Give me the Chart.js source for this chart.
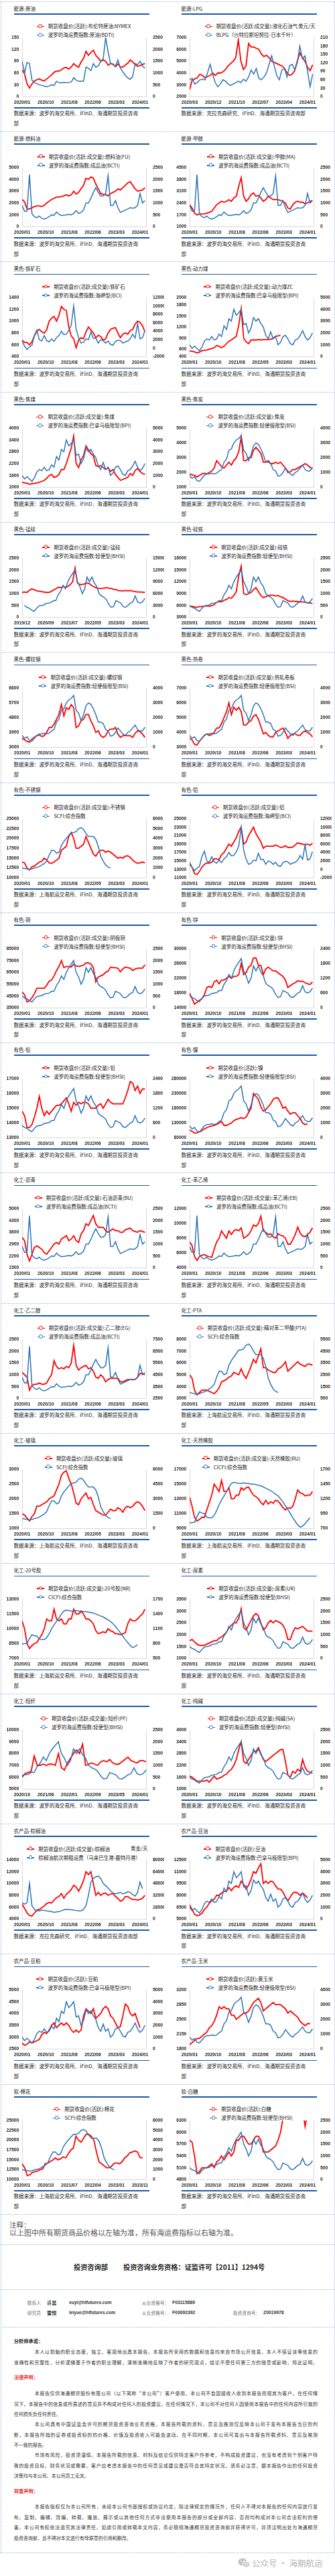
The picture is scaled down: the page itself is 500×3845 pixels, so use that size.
<!DOCTYPE html>
<html><head><meta charset="utf-8">
<script src="https://cdn.jsdelivr.net/npm/chart.js@4.4.1/dist/chart.umd.min.js"></script>
<style>
html,body{margin:0;padding:0;background:#fff;}
body{width:500px;height:3845px;position:relative;overflow:hidden;font-family:"Noto Sans CJK SC","Noto Sans",sans-serif;color:#1a1a1a;}
.abs{position:absolute;}
.hl{position:absolute;left:1px;width:498px;height:0;border-top:1px dotted #9fb5d5;}
.vl{position:absolute;top:1.7px;height:3808px;width:0;border-left:1px dotted #9fb5d5;}
.cell{position:absolute;width:250px;height:194px;}
.ttl{position:absolute;left:20.5px;top:5px;font-size:7.5px;line-height:11px;white-space:nowrap;}
.rule{position:absolute;left:20.5px;width:202px;height:1.7px;background:#1f5aa6;}
.lg{position:absolute;left:0;width:250px;top:30.8px;text-align:center;}
.lgi{display:inline-block;text-align:left;}
.lrow{height:13px;line-height:13px;font-size:7.5px;white-space:nowrap;}
.mk{display:inline-block;width:11px;height:7px;position:relative;vertical-align:middle;margin-right:6px;top:-1px;}
.mk::before{content:'';position:absolute;left:0;right:0;top:2.8px;height:1.6px;background:currentColor;}
.mk::after{content:'';position:absolute;left:2.6px;top:0.2px;width:3.6px;height:3.6px;border:1.4px solid currentColor;border-radius:50%;background:#fff;}
.mk.r{color:#ff0000;} .mk.b{color:#2e75b6;}
.unit{position:absolute;left:195px;top:32px;font-size:7.5px;line-height:10px;white-space:nowrap;}
.src{position:absolute;left:20.5px;top:160.8px;font-size:7.6px;line-height:14.7px;white-space:pre;}
canvas.cv{position:absolute;left:0;top:40px;}
.tx{position:absolute;white-space:nowrap;}
.jl{position:absolute;white-space:nowrap;font-size:7px;line-height:10px;text-align:justify;text-align-last:justify;color:#333;}
.pl{position:absolute;white-space:nowrap;font-size:7px;line-height:10px;color:#333;}
</style></head>
<body>
<script>
// ---------------- x label sets ----------------
const X_STD = ['2020/01','2020/10','2021/08','2022/06','2023/03','2024/01'];
const X_MAY = ['2020/01','2020/10','2021/08','2022/05','2023/03','2024/01'];
const X_LPG = ['2020/03','2020/12','2021/10','2022/07','2023/04','2024/01'];
const X_MNSI = ['2019/12','2020/09','2021/07','2022/05','2023/03','2024/01'];
const X_PF = ['2020/10','2021/06','2022/01','2022/09','2023/05','2024/01'];
const X_COT = ['2020/01','2020/10','2021/07','2022/04','2023/01','2023/11'];

// ---------------- shared freight indices (monthly, from start month) ----------------
const bdti = [1500,1000,1450,1400,700,600,550,500,480,450,420,450, 500,480,650,600,580,600,590,600,620,800,700,650, 650,650,1250,1200,1100,1400,1250,1300,1500,1600,2500,1900, 1400,1350,1300,1550,1200,1050,900,800,730,850,1400,1350, 1500,1300,1200];
const blpg = [60,65,45,50,60,62,60,85,115,80, 50,35,45,60,55,45,40,45,50,55,50,62, 55,70,95,80,100,65,60,70,85,115,145,110, 75,60,95,100,70,110,115,95,120,180,135,145, 90,35,80];
const bcti = [900,650,650,2200,550,420,380,450,350,320,360,420, 500,480,620,520,470,480,500,520,500,560,680,560, 600,700,1000,1000,1200,1450,1650,1450,1300,1300,1400,2150, 900,900,1100,800,600,650,700,750,800,780,800,900, 1400,1000,1100];
const bci = [1700,500,-300,300,700,3000,4300,2000,1700,3000,1800,1500, 2200,1600,2500,3000,4000,3200,3300,4200,5500,10000,4500,2500, 1200,1400,2200,2000,3800,2300,2400,1200,2000,1800,1200,1700, 900,700,1600,1900,1800,1200,1500,1700,2200,3300,2400,5800, 2200,2500,4200];
const bpi = [1000,700,900,700,500,800,1300,1500,1400,1700,1400,1500, 1900,1700,2600,2300,3200,3000,4000,3500,3700,4000,2700,2800, 2000,2400,3300,3000,3200,2800,2500,1800,1500,2100,1500,1700, 1000,1200,1700,1800,1500,1100,1000,1400,1500,1800,2200,1700, 1400,1600,2000];
const bsi = [800,600,700,450,400,600,800,900,900,950,900,950, 1100,1200,1700,1900,2500,2600,3000,3200,3300,3500,2500,2300, 1800,2200,2800,3000,2900,2600,2200,1700,1700,1600,1200,1100, 750,800,1000,1300,1100,900,800,1000,1100,1300,1500,1200, 1100,1100,1350];
const bhsi = [500,420,380,300,250,380,480,500,520,580,600,620, 700,700,950,1100,1350,1200,1500,1700,1850,2000,1500,1300, 1000,1200,1700,1500,1700,1450,1300,1000,900,850,750,550, 420,450,700,650,600,450,420,500,600,650,900,650, 600,650,800];
const scfi = [1000,950,900,850,900,1000,1050,1150,1300,1450,1700,2300, 2800,2800,2500,2600,3300,3700,4000,4300,4600,4600,4700,5000, 5100,4900,4500,4200,4200,4200,3900,3200,2200,1700,1300,1100, 1000];
const cicfi = [790,800,800,900,980,960,950,890,880,880,920,1000, 1100,1180,1250,1320,1400,1460,1480,1470,1460,1460,1470,1460, 1460,1450,1450,1440,1430,1420,1400,1380,1360,1340,1310,1280, 1250,1200,1150,1080,1020,950,880,820,760,720,740,780, 830,880];
const palmFreight = [22000,20000,22000,48000,18000,13000,11000,11000,12000,11500,11000,10500, 10000,9000,9500,10000,11000,12500,13000,12800,12500,12000,11500,11000, 11000,13000,18000,32000,50000,55000,57000,58000,55000,48000,45000,42000, 38000,35000,34000,35000,36000,34000,35000,37000,36000,33000,31000,36000, 50000,41000];

// ---------------- futures prices (monthly, from start month) ----------------
const brent = [68,58,33,22,32,40,43,45,42,40,45,50, 55,62,65,65,68,73,74,70,75,84,78,75, 88,97,115,105,112,118,105,98,90,93,90,80, 84,83,76,83,75,75,80,85,93,88,82,77, 79,82,84];
const lpg = [2600,3400,3500,3600,3900,3800,3600,3700,3800,4000, 3800,4000,4000,4100,4300,4600,4800,5000,5300,6800,5000,4300, 4600,6500,6200,6200,6100,6000,5600,5400,5500,5300,5000,4900, 4800,4700,4600,4400,4000,3800,3900,4200,5000,5700,5300,5000, 4500,4200,4700];
const fuelOil = [2300,2100,1500,1500,1600,1700,1750,1750,1700,1800,2000,2150, 2300,2400,2500,2500,2550,2600,2700,2600,2700,3000,2750,2900, 3200,3500,4100,4000,4200,4100,3600,3200,2800,2750,2700,2600, 2800,2900,3000,3200,3100,3300,3500,3700,3800,3500,3200,3000, 3050,3100,3300];
const methanol = [2300,2100,1800,1700,1750,1750,1750,1800,1850,1900,2100,2300, 2400,2500,2450,2500,2600,2500,2700,2800,3400,3900,2800,2500, 2650,2900,3000,2800,2850,2700,2500,2600,2800,2700,2600,2600, 2600,2550,2500,2400,2100,2050,2300,2450,2500,2450,2450,2350, 2400,2500,2550];
const ironOre = [680,640,640,600,650,750,830,860,820,800,850,1000, 1050,1080,1000,1100,1250,1200,1180,900,750,700,550,680, 720,700,820,900,850,800,720,760,740,680,700,800, 860,880,890,800,720,780,800,780,840,860,950,1000, 980,920,820];
const thermalCoal = [550,550,530,500,520,560,570,580,600,620,640,700, 680,640,680,750,820,850,900,950,1250,1700,900,800, 750,850,850,850,860,850,860,860,860,870,900,950, 960,980];
const cokingCoal = [1250,1230,1200,1150,1180,1200,1220,1250,1300,1350,1450,1600, 1650,1500,1550,1650,1900,1900,2200,2600,3000,3600,2200,2000, 2400,2600,3100,2900,2700,2600,2100,2050,2100,2000,1900,2000, 1800,1900,1650,1500,1350,1400,1450,1500,1700,1600,1850,1950, 1800,1700,1650];
const coke = [1900,1850,1800,1700,1800,1900,1950,1900,2000,2100,2300,2800, 2600,2400,2300,2500,2700,2500,2800,3000,3400,4400,2800,2800, 3000,3000,3500,3700,3500,3300,2700,2700,2800,2600,2600,2700, 2600,2700,2500,2300,2000,2050,2200,2200,2300,2400,2500,2600, 2500,2350,2250];
const mnSi = [6300, 6400,6300,6800,7200,7000,6700,6600,6500,6400,6300,6300,6500, 6900,7200,7600,7500,7800,7600,7800,8300,9000,12500,8700,8300, 8300,8500,8700,8500,8000,7700,7400,7300,7300,7400,7500,7400, 7300,7100,7000,6800,6700,6700,6800,6700,6800,6600,6500,6400, 6400,6350,6300];
const feSi = [5800,5800,5600,5500,5700,5700,5800,5900,5800,5900,6200,6800, 7000,6900,7300,7500,8000,7800,8500,9500,13500,16000,9000,8700, 9000,9300,10000,10500,9500,8500,8000,8200,8500,8600,8600,8400, 8500,8200,8000,7600,7200,7000,7100,7000,7000,6900,6900,6800, 6700,6600,6500];
const rebar = [3550,3450,3350,3300,3500,3600,3700,3750,3650,3700,3900,4200, 4200,4400,4700,5000,5600,4900,5400,5300,5600,5400,4200,4300, 4600,4700,5000,5000,4600,4300,3900,4000,3700,3600,3700,4000, 4100,4100,4200,3800,3600,3700,3700,3700,3700,3600,3850,4000, 3950,3800,3600];
const hotCoil = [3600,3500,3200,3150,3400,3600,3800,3900,3800,3850,4000,4300, 4300,4600,5000,5400,6000,5200,5700,5500,5700,5400,4500,4500, 4700,4800,5100,5200,4900,4400,3900,4000,3800,3700,3700,4000, 4100,4200,4300,4000,3600,3800,3900,3900,3800,3800,4000,4100, 4000,3900,3700];
const stainless = [14000,13800,12500,12000,12800,13000,13500,14000,14200,15000,14500,13800, 13700,14000,14500,15000,17000,17500,18000,20500,21500,20000,17500,17500, 18000,18500,20500,19000,17500,16000,15500,16500,17000,17000,16500,16800, 16500,16000,15500,15000,15200,15000,15500,15600,15200,14500,14000,13700, 13800,14000,13800];
const aluminium = [14200,13500,12000,11800,12500,13500,14200,14500,14500,14700,15500,15500, 15300,16500,17000,18000,19000,18500,19500,20500,22000,23000,19000,19500, 21000,22000,23000,21500,20500,19500,18000,18500,18500,18500,18500,18800, 18500,18200,18300,18600,18200,18200,18300,18800,19300,19100,19000,18800, 19000,18700,19200];
const copper = [48500,46000,40000,41000,43500,47000,51500,51500,51500,51500,54000,57500, 58500,62000,66500,70000,75000,69000,70000,70000,69500,72000,70500,70000, 70500,71000,73000,73000,72000,69000,57000,61000,62000,63000,65000,66000, 69500,69000,69000,68500,65500,68000,69500,69000,68500,66500,67800,68500, 68500,68500,71500];
const zinc = [18000,16500,15000,15500,16000,16500,17500,19500,19800,19500,21000,21500, 20500,21500,21500,22000,22500,22000,22500,22500,23000,26000,23000,23500, 25000,25500,27500,27500,25500,25500,23000,24500,25000,24500,24000,24000, 23500,23000,22500,21500,19500,20000,20500,20800,21300,21200,21200,20800, 20500,20300,21000];
const lead = [14800,14500,13700,13700,13900,14400,15000,15800,15000,14500,14800,14600, 14800,15000,15200,15200,15300,15500,15700,15300,14800,15400,15200,15400, 15300,15400,15400,15300,15000,15000,15000,15200,15300,15000,15300,15600, 15400,15300,15300,15300,15300,15300,15700,16200,16800,16700,16200,16500, 16000,16300,16300];
const nickel = [106000,102000,96000,97000,100000,104000,110000,114000,118000,120000,122000,125000, 130000,135000,122000,122000,126000,130000,138000,142000,145000,148000,145000,150000, 165000,180000,230000,220000,210000,185000,170000,175000,185000,195000,210000,215000, 215000,200000,180000,185000,170000,160000,165000,165000,155000,145000,130000,125000, 127000];
const bitumen = [3300,3100,2300,1900,2300,2700,2800,2700,2600,2400,2300,2500, 2700,2900,3000,2900,3200,3300,3400,3100,3200,3400,3100,3000, 3500,3700,4100,4000,4300,4600,4100,3900,3900,3900,3700,3600, 3700,3800,3700,3700,3600,3600,3750,3800,3850,3700,3650,3600, 3700,3650,3600];
const styrene = [7500,7000,5500,5000,5500,5700,5800,5600,5500,5400,6500,7500, 8000,9000,8500,8000,9000,8500,9000,9200,9000,9400,8000,8200, 8500,9000,9800,9600,10000,11000,9000,8800,8500,8600,8200,8000, 8600,8400,8300,8000,7200,7200,7800,8500,9500,8700,8300,8200, 8500,8800,9400];
const glycol = [4700,4500,4300,3200,3600,3700,3700,3800,3700,3700,3800,4200, 4500,5700,5200,5000,5100,5000,5200,5100,5500,7000,5300,4900, 5100,5200,5300,5000,5100,4800,4300,4200,4500,4300,3900,4100, 4200,4200,4200,4200,3900,3900,4000,4100,4100,4100,4100,4300, 4600,4600,4500];
const pta = [5000,4700,3700,3300,3500,3700,3700,3700,3600,3500,3400,3600, 3900,4400,4500,4600,4800,4900,5200,5100,5000,5500,5000,4700, 5200,5700,6300,6000,6600,7200,5600,5600,5400,5300,5200,5200, 5500,5600,5800,6100,5300,5500,5700,5900,6100,5900,5800,5700, 5900,5900,5800];
const glass = [1500,1450,1350,1250,1400,1500,1750,1750,1800,1850,1900,2000, 2050,2100,2300,2500,2800,2900,2950,2700,2500,2200,1850,1800, 2000,2100,2200,2000,2050,1800,1600,1550,1500,1450,1450,1550, 1650,1600,1600,1700,1650,1550,1700,1750,1700,1750,1850,1900, 1850,1750,1600];
const rubber = [13200,12000,10500,10000,10200,10500,10500,11500,12500,13500,15000,14500, 14000,15500,14000,14000,14500,13000,13000,13500,13500,14500,14200,14500, 14600,14000,13500,13300,13000,12500,12200,12800,12300,12600,12400,12800, 12700,12300,11800,11500,11800,11700,12000,13000,14200,13800,13700,13400, 13500,13500,14000];
const nr20 = [10800,10000,8500,8000,8300,8500,8600,9000,9400,10000,11000,10800, 10800,12000,11000,10800,11000,10500,10500,11000,11000,12000,11500,11500, 11800,11500,11000,11000,10800,10500,9800,9500,9600,9700,9600,10000, 9800,9700,9500,9500,9400,9500,9600,10500,11000,10800,10800,11000, 11300,11500,12000];
const urea = [1750,1800,1700,1600,1550,1550,1550,1600,1650,1700,1750,1750, 1850,1900,2000,2100,2300,2400,2500,2500,2700,3100,2300,2200, 2400,2600,2800,2900,2800,2500,2200,2300,2500,2600,2500,2600, 2550,2500,2400,2200,1800,1800,2100,2300,2250,2300,2350,2250, 2150,2150,2150];
const psf = [6000,6300,6400, 6500,7800,7000,7000,7100,7000,7100,7100,7000,8000,6800,6600, 7200,7600,8000,8300,8000,8800,7000,7100,7200,7100,7000,7300, 7400,7300,7500,7200,7100,7100,7300,7500,7700,7400,7300,7200, 7400,7400,7300];
const sodaAsh = [1650,1600,1500,1400,1400,1400,1400,1450,1350,1500,1650,1500, 1550,1600,1700,1750,1900,2000,2200,2500,3000,3400,2400,2300, 2500,2700,2900,2900,3100,2800,2500,2400,2500,2600,2700,2800, 2900,3000,3000,2400,1700,1600,1900,1800,2000,1900,2500,2100, 1900,1850,1800];
const palmOil = [6500,5800,5000,4600,4500,5000,5500,5600,5900,6200,6600,6800, 6700,7200,7600,7800,8300,7500,8200,8500,9000,9700,9400,8700, 9500,10500,12000,11500,12000,10000,8000,8500,8000,8300,8400,8000, 8200,8300,7800,7500,7000,7200,7800,7800,7500,7300,7300,7200, 7300,7500,8000];
const soyOil = [6800,6200,5600,5400,5500,5700,6200,6500,7000,7300,7500,8000, 8000,8300,8500,8500,9000,8600,9000,9200,9000,9800,9400,8800, 9300,10000,11000,10800,11500,12000,9500,9800,9500,9800,9700,9200, 8800,8800,8400,7800,7300,7800,8300,8400,8300,8000,8300,8000, 7700];
const soyMeal = [2750,2650,2700,2800,2750,2800,2850,2900,3100,3200,3150,3300, 3500,3600,3400,3500,3600,3500,3600,3500,3300,3200,3300,3200, 3300,3900,4200,4100,4000,4200,3800,3900,4000,4200,4300,4200, 3900,3800,3600,3400,3450,3900,4400,4300,4000,3900,4000,3700, 3400];
const corn = [1900,1950,2000,2050,2050,2100,2150,2200,2300,2350,2450,2600, 2800,2750,2800,2750,2750,2600,2600,2500,2550,2600,2650,2650, 2700,2800,2900,2950,3000,2900,2700,2750,2800,2850,2900,2850, 2850,2850,2800,2750,2650,2700,2650,2600,2550,2450,2400,2350, 2400,2400];
const cotton = [14000,13000,11000,11200,11800,12000,12200,12500,12700,14000,14200,14600, 15000,15500,15000,15300,15800,15500,16500,17500,18000,21000,20000,19500, 20500,21500,21500,21000,20000,17000,14500,14000,13500,13000,13000,13500, 14200,14200,14000,14500,15500,16000,16800,17000,17300,17000,15600,15500];
const sugar = [5800,5750,5400,4950,5000,5100,5100,5100,5150,5200,5100,5250, 5300,5400,5300,5400,5500,5400,5500,5800,5800,5900,5900,5800, 5700,5700,5800,5900,5900,5800,5500,5500,5500,5550,5600,5650, 5800,6000,6350,6600,7000,7000,7000,7000,7000,6800,6600,6150, 6500,6500];

// ---------------- axis ticks ----------------
const tk = {
  p150:[0,30,60,90,120,150], r2500:[0,500,1000,1500,2000,2500],
  lpgL:[2000,3000,4000,5000,6000,7000], lpgR:[0,30,60,90,120,150,180,210],
  l5000:[0,1000,2000,3000,4000,5000], maL:[1000,1700,2400,3100,3800,4500],
  ioL:[400,600,800,1000,1200,1400], bciR:[-2000,0,2000,4000,6000,8000,10000,12000],
  zcL:[400,600,900,1200,1500,1800,2000], r5000:[0,1000,2000,3000,4000,5000],
  jmL:[1000,1600,2200,2800,3400,4000], jL:[1000,2000,3000,4000,5000], r4000:[0,1000,2000,3000,4000],
  sfR:[0,3000,6000,9000,12000,15000], siL:[3000,6000,9000,12000,15000,18000],
  rbL:[3000,3900,4800,5700,6600], hcL:[3000,4000,5000,6000,7000],
  ssL:[10000,12500,15000,17500,20000,22500,25000], r6000:[0,1000,2000,3000,4000,5000,6000],
  alL:[11000,13000,15000,17000,19000,21000,23000,25000],
  cuL:[35000,45000,55000,65000,75000,85000], znL:[14000,18000,22000,26000,30000], r2400:[0,600,1200,1800,2400],
  pbL:[13000,14000,15000,16000,17000], niL:[80000,130000,180000,230000,280000],
  buL:[1500,2200,2900,3600,4300,5000], ebL:[4000,6000,8000,10000,12000],
  egR:[2500,3500,4500,5500,6500,7500], ptaL:[3000,4000,5000,6000,7000,8000], ptaR:[500,1500,2500,3500,4500,5500],
  fgL:[1000,1500,2000,2500,3000], fgR:[0,1500,3000,4500,6000],
  ruL:[9000,11000,13000,15000,17000], ruR:[700,950,1200,1450,1700],
  nrL:[7000,8500,10000,11500,13000], nrR:[500,800,1100,1400,1700],
  urL:[1000,1500,2000,2500,3000,3500], pfL:[5000,6000,7000,8000,9000,10000],
  saL:[1000,1600,2200,2800,3400,4000], pL:[4000,6000,8000,10000,12000,14000], pR:[0,16000,32000,48000,64000,80000],
  yL:[5000,6500,8000,9500,11000,12500], mL:[2500,3000,3500,4000,4500,5000], cL:[1800,2150,2500,2850,3200],
  srL:[4800,5100,5400,5700,6000,6300]
};

const SRC_B = '数据来源：波罗的海交易所、iFinD、海通期货投资咨询\n部';
const SRC_S = '数据来源：上海航运交易所、iFinD、海通期货投资咨询\n部';
const SRC_C = '数据来源：克拉克森研究、iFinD、海通期货投资咨询部';
const FUT = '期货收盘价(活跃:成交量):';
const FUTA = '期货收盘价(活跃):';
const BAL = '波罗的海运费指数:';

// chart table: title, legend red, legend blue, red data, red start, blue data, blue start, left ticks, right ticks, x labels, source, red on right axis
const table = [
 ['能源-原油','期货收盘价(活跃):布伦特原油:NYMEX',BAL+'原油(BDTI)',brent,'2020/01',bdti,'2020/01',tk.p150,tk.r2500,X_STD,SRC_B,0],
 ['能源-LPG',FUT+'液化石油气','BLPG（沙特拉斯坦努拉-日本千叶）',lpg,'2020/03',blpg,'2020/03',tk.lpgL,tk.lpgR,X_LPG,SRC_C,0,'美元/天'],
 ['能源-燃料油',FUT+'燃料油(FU)',BAL+'成品油(BCTI)',fuelOil,'2020/01',bcti,'2020/01',tk.l5000,tk.r2500,X_STD,SRC_B,0],
 ['能源-甲醇',FUT+'甲醇(MA)',BAL+'成品油(BCTI)',methanol,'2020/01',bcti,'2020/01',tk.maL,tk.r2500,X_STD,SRC_B,0],
 ['黑色-铁矿石',FUT+'铁矿石',BAL+'海岬型(BCI)',ironOre,'2020/01',bci,'2020/01',tk.ioL,tk.bciR,X_STD,SRC_B,0],
 ['黑色-动力煤',FUT+'动力煤ZC',BAL+'巴拿马极限型(BPI)',thermalCoal,'2020/01',bpi,'2020/01',tk.zcL,tk.r5000,X_MAY,SRC_B,0],
 ['黑色-焦煤',FUT+'焦煤',BAL+'巴拿马极限型(BPI)',cokingCoal,'2020/01',bpi,'2020/01',tk.jmL,tk.r5000,X_STD,SRC_B,0],
 ['黑色-焦炭',FUT+'焦炭',BAL+'轻便极限型(BSI)',coke,'2020/01',bsi,'2020/01',tk.jL,tk.r4000,X_STD,SRC_B,0],
 ['黑色-锰硅',FUT+'锰硅',BAL+'轻便型(BHSI)',mnSi,'2019/12',bhsi,'2020/01',tk.r2500,tk.sfR,X_MNSI,SRC_B,1],
 ['黑色-硅铁',FUT+'硅铁',BAL+'轻便型(BHSI)',feSi,'2020/01',bhsi,'2020/01',tk.siL,tk.r2500,X_STD,SRC_B,0],
 ['黑色-螺纹钢',FUT+'螺纹钢',BAL+'轻便极限型(BSI)',rebar,'2020/01',bsi,'2020/01',tk.rbL,tk.r4000,X_STD,SRC_B,0],
 ['黑色-热卷',FUT+'热轧卷板',BAL+'轻便极限型(BSI)',hotCoil,'2020/01',bsi,'2020/01',tk.hcL,tk.r4000,X_STD,SRC_B,0],
 ['有色-不锈钢',FUT+'不锈钢','SCFI:综合指数',stainless,'2020/01',scfi,'2020/01',tk.ssL,tk.r6000,X_MAY,SRC_S,0],
 ['有色-铝',FUT+'铝',BAL+'海岬型(BCI)',aluminium,'2020/01',bci,'2020/01',tk.alL,tk.bciR,X_STD,SRC_B,0],
 ['有色-铜',FUT+'阴极铜',BAL+'轻便型(BHSI)',copper,'2020/01',bhsi,'2020/01',tk.cuL,tk.r2500,X_STD,SRC_B,0],
 ['有色-锌',FUT+'锌',BAL+'轻便型(BHSI)',zinc,'2020/01',bhsi,'2020/01',tk.znL,tk.r2400,X_STD,SRC_B,0],
 ['有色-铅',FUT+'铅',BAL+'轻便型(BHSI)',lead,'2020/01',bhsi,'2020/01',tk.pbL,tk.r2400,X_STD,SRC_B,0],
 ['有色-镍',FUTA+'镍',BAL+'轻便极限型(BSI)',nickel,'2020/01',bsi,'2020/01',tk.niL,tk.r4000,X_STD,SRC_B,0],
 ['化工-沥青',FUT+'石油沥青(BU)',BAL+'成品油(BCTI)',bitumen,'2020/01',bcti,'2020/01',tk.buL,tk.r2500,X_STD,SRC_B,0],
 ['化工-苯乙烯',FUT+'苯乙烯(EB)',BAL+'成品油(BCTI)',styrene,'2020/01',bcti,'2020/01',tk.ebL,tk.r2500,X_STD,SRC_B,0],
 ['化工-乙二醇',FUT+'乙二醇(EG)',BAL+'成品油(BCTI)',glycol,'2020/01',bcti,'2020/01',tk.r2500,tk.egR,X_STD,SRC_B,1],
 ['化工-PTA',FUT+'精对苯二甲酸(PTA)','SCFI:综合指数',pta,'2020/01',scfi,'2020/01',tk.ptaL,tk.ptaR,X_MAY,SRC_S,0],
 ['化工-玻璃',FUT+'玻璃','SCFI:综合指数',glass,'2020/01',scfi,'2020/01',tk.fgL,tk.fgR,X_MAY,SRC_S,0],
 ['化工-天然橡胶',FUT+'天然橡胶(RU)','CICFI:综合指数',rubber,'2020/01',cicfi,'2020/01',tk.ruL,tk.ruR,X_STD,SRC_S,0],
 ['化工-20号胶',FUT+'20号胶(NR)','CICFI:综合指数',nr20,'2020/01',cicfi.slice(0,48),'2020/01',tk.nrL,tk.nrR,X_STD,SRC_S,0],
 ['化工-尿素',FUT+'尿素(UR)',BAL+'轻便型(BHSI)',urea,'2020/01',bhsi,'2020/01',tk.urL,tk.r2500,X_STD,SRC_B,0],
 ['化工-短纤',FUT+'短纤(PF)',BAL+'轻便型(BHSI)',psf,'2020/10',bhsi,'2020/01',tk.pfL,tk.r2500,X_PF,SRC_B,0],
 ['化工-纯碱',FUT+'纯碱(SA)',BAL+'轻便型(BHSI)',sodaAsh,'2020/01',bhsi,'2020/01',tk.saL,tk.r2500,X_STD,SRC_B,0],
 ['农产品-棕榈油',FUT+'棕榈油','棕榈油航次期租运费（马来巴生港-鹿特丹港）',palmOil,'2020/01',palmFreight,'2020/01',tk.pL,tk.pR,X_STD,SRC_C,0,'美金/天'],
 ['农产品-豆油',FUTA+'豆油',BAL+'巴拿马极限型(BPI)',soyOil,'2020/01',bpi,'2020/01',tk.yL,tk.r5000,X_STD,SRC_B,0],
 ['农产品-豆粕',FUTA+'豆粕',BAL+'巴拿马极限型(BPI)',soyMeal,'2020/01',bpi,'2020/01',tk.mL,tk.r5000,X_STD,SRC_B,0],
 ['农产品-玉米',FUTA+'黄玉米',BAL+'轻便极限型(BSI)',corn,'2020/01',bsi,'2020/01',tk.cL,tk.r4000,X_STD,SRC_B,0],
 ['软-棉花',FUTA+'棉花','SCFI:综合指数',cotton,'2020/01',scfi,'2020/01',tk.ssL,tk.r6000,X_COT,SRC_S,0],
 ['软-白糖',FUTA+'白糖',BAL+'轻便型(BHSI)',sugar,'2020/01',bhsi,'2020/01',tk.srL,tk.r2500,X_STD,SRC_B,0]
];

// ---------------- build ----------------
const ROW0 = 1.7, ROWH = 194.3;
function el(tag, cls, parent, style, text){const e=document.createElement(tag); if(cls) e.className=cls; if(style) e.setAttribute('style',style); if(text!=null) e.textContent=text; (parent||document.body).appendChild(e); return e;}
function mIdx(s){const p=s.split('/').map(Number); return p[0]*12+p[1]-1;}
function pts(vals,start,axisStart){const o=mIdx(start)-mIdx(axisStart); return vals.map((v,i)=>({x:o+i,y:v}));}

Chart.defaults.font.family = '"Liberation Sans", Arial, sans-serif';
const tickFont = {size:6.8, weight:'bold', family:'"Liberation Sans", Arial, sans-serif'};
const AX = '#d9d9d9';

for (let r=0;r<=17;r++) el('div','hl',null,'top:'+(ROW0+ROWH*r)+'px');
[3350,3416.7,3472.7,3810].forEach(y=>el('div','hl',null,'top:'+y+'px'));
el('div','vl',null,'left:1px'); el('div','vl',null,'left:498.5px');

table.forEach((c,i)=>{
  const row=Math.floor(i/2), col=i%2;
  const cell=el('div','cell',null,'left:'+(col*250)+'px;top:'+(ROW0+ROWH*row)+'px');
  el('div','ttl',cell,null,c[0]);
  el('div','rule',cell,'top:18.4px');
  const lg=el('div','lg',cell); const lgi=el('div','lgi',lg);
  const r1=el('div','lrow',lgi); el('span','mk r',r1); r1.appendChild(document.createTextNode(c[1]));
  const r2=el('div','lrow',lgi); el('span','mk b',r2); r2.appendChild(document.createTextNode(c[2]));
  if(c[12]) el('div','unit',cell,null,c[12]);
  el('div','rule',cell,'top:158.4px');
  el('div','src',cell,null,c[10]);
  const cv=el('canvas','cv',cell); cv.width=245; cv.height=120;
  const xl=c[9], span=mIdx(xl[5])-mIdx(xl[0]);
  const xTicks=[0,1,2,3,4,5].map(k=>k*span/5);
  const L=c[7], R=c[8];
  const redAxis=c[11]?'y2':'y', blueAxis=c[11]?'y':'y2';
  new Chart(cv,{
    type:'line',
    data:{datasets:[
      {data:pts(c[5],c[6],xl[0]),yAxisID:blueAxis,borderColor:'#2e75b6',borderWidth:1.5,pointRadius:0,tension:0,fill:false},
      {data:pts(c[3],c[4],xl[0]),yAxisID:redAxis,borderColor:'#ff0000',borderWidth:1.8,pointRadius:0,tension:0,fill:false}
    ]},
    options:{
      responsive:false, animation:false, devicePixelRatio:1, parsing:false, normalized:true,
      layout:{padding:{top:7.6,left:0,right:0,bottom:0}},
      plugins:{legend:{display:false},tooltip:{enabled:false}},
      events:[],
      scales:{
        x:{type:'linear',min:0,max:span*185/176,
           grid:{display:false,drawTicks:false},border:{display:true,color:AX,width:1},
           ticks:{autoSkip:false,maxRotation:0,minRotation:0,padding:5.2,font:tickFont,color:'#1a1a1a',callback:(v,k)=>xl[k]},
           afterBuildTicks:s=>{s.ticks=xTicks.map(v=>({value:v}));},
           afterFit:s=>{s.height=17.7;}},
        y:{type:'linear',position:'left',min:L[0],max:L[L.length-1],
           grid:{display:false,drawTicks:false},border:{display:true,color:AX,width:1},
           ticks:{padding:4.6,font:tickFont,color:'#1a1a1a',callback:v=>String(v)},
           afterBuildTicks:s=>{s.ticks=L.map(v=>({value:v}));},
           afterFit:s=>{s.width=33;}},
        y2:{type:'linear',position:'right',min:R[0],max:R[R.length-1],
           grid:{display:false,drawTicks:false},border:{display:true,color:AX,width:1},
           ticks:{padding:10,font:tickFont,color:'#1a1a1a',callback:v=>String(v)},
           afterBuildTicks:s=>{s.ticks=R.map(v=>({value:v}));},
           afterFit:s=>{s.width=27;}}
      }
    }
  });
});

// ---------------- notes & disclaimers ----------------
function tx(text,x,yc,size,style){return el('div','tx',null,'left:'+x+'px;top:'+(yc-size*0.6)+'px;font-size:'+size+'px;line-height:'+(size*1.2)+'px;'+(style||''),text);}
tx('注释：',14,3321.7,10.5,'color:#555;');
tx('以上图中所有期货商品价格以左轴为准，所有海运费指标以右轴为准。',14,3333,11,'color:#555;');
tx('投资咨询部',110,3384.3,10.2,'font-weight:bold;color:#222;');
tx('投资咨询业务资格：证监许可【2011】1294号',184,3384.3,10.2,'font-weight:bold;color:#222;');
tx('联系人',40.7,3437.3,6.8,'color:#777;');
tx('许昊',70,3437.3,7.2,'font-weight:bold;color:#333;');
tx('xuyl@htfutures.com',103,3437.3,6.6,'font-weight:bold;color:#333;font-family:"Liberation Sans",Arial,sans-serif;');
tx('从业资格号：',211.7,3437.3,6.8,'color:#777;');
tx('F03115889',257,3437.3,6.8,'font-weight:bold;color:#333;font-family:"Liberation Sans",Arial,sans-serif;');
tx('研究员',40.7,3452.3,6.8,'color:#777;');
tx('雷悦',70,3452.3,7.2,'font-weight:bold;color:#333;');
tx('leiyue@htfutures.com',103,3452.3,6.6,'font-weight:bold;color:#333;font-family:"Liberation Sans",Arial,sans-serif;');
tx('从业资格号：',211.7,3452.3,6.8,'color:#777;');
tx('F03092392',257,3452.3,6.8,'font-weight:bold;color:#333;font-family:"Liberation Sans",Arial,sans-serif;');
tx('投资咨询号：',347.7,3452.3,6.8,'color:#777;');
tx('Z0019978',393,3452.3,6.8,'font-weight:bold;color:#333;font-family:"Liberation Sans",Arial,sans-serif;');

tx('分析师承诺：',20.7,3494.3,7.3,'font-weight:bold;color:#222;');
tx('法律声明：',20.7,3548.3,7.3,'font-weight:bold;color:#e8312f;');
tx('郑重声明：',20.7,3718.3,7.3,'font-weight:bold;color:#e8312f;');

const paras = [
 [3510,16,['本人以勤勉的职业态度，独立、客观地出具本报告。本报告所采用的数据和信息均来自市场公开信息，本人不保证该等信息的',
           '准确性和完整性，分析逻辑基于作者的职业理解，清晰准确地反映了作者的研究观点，结论不受任何第三方的授意或影响，特此证明。'],1],
 [3572.3,15.3,['本报告仅供海通期货股份有限公司（以下简称“本公司”）客户使用。本公司不会因接收人收到本报告而视其为客户。在任何情',
           '况下，本报告中的信息或所表述的意见并不构成对任何人的投资建议。在任何情况下，本公司不对任何人因使用本报告中的任何内容所引致的',
           '任何损失负任何责任。'],0],
 [3618.3,15.3,['本公司具有中国证监会许可的期货投资咨询业务资格。本报告所载的资料、意见及推测仅反映本公司于发布本报告当日的判',
           '断，本报告所指的证券或投资标的的价格、价值及投资收入可能会波动。在不同时期，本公司可发出与本报告所载资料、意见及推测',
           '不一致的报告。'],0],
 [3664.3,15.4,['市场有风险，投资须谨慎。本报告所载的信息、材料及结论仅供特定客户作参考，不构成投资建议，也没有考虑到个别客户特',
           '殊的投资目标、财务状况或需要。客户应考虑本报告中的任何意见或建议是否符合其特定状况。请务必注意，据本报告作出的任何投资',
           '决策均与本公司、本公司员工无关。'],0],
 [3741,15.6,['本报告版权仅为本公司所有，未经本公司书面授权或协议约定，除法律规定的情况外，任何人不得对本报告的任何内容进行发',
           '布、复制、编辑、改编、转载、播放、展示或以其他任何方式非法使用本报告的部分或全部内容，否则均构成对本公司合法权利的侵',
           '害。本公司有权依法追究其法律责任。如欲引用或转载本文内容，务必联络海通期货投资咨询部并获得许可，并须注明出处为海通期货',
           '投资咨询部，且不得对本文进行有悖原意的引用和删改。'],0]
];
paras.forEach(p=>{
  const lines=p[2];
  lines.forEach((t,k)=>{
    const x = k===0 ? 51.7 : 20.7;
    const yc = p[0]+k*p[1];
    const full = (k<lines.length-1) || p[3];
    const d = el('div', full?'jl':'pl', null, 'left:'+x+'px;top:'+(yc-5)+'px;'+(full?('width:'+(474-x)+'px;'):''), t);
  });
});

// watermark
const wm = el('div','tx',null,'left:355px;top:3817px;height:18px;');
wm.innerHTML = '<svg width="19" height="17" viewBox="0 0 19 17" style="position:absolute;left:0;top:0"><ellipse cx="7" cy="7" rx="6.6" ry="5.6" fill="#c4c4c4"/><ellipse cx="12.4" cy="10.6" rx="5.6" ry="4.7" fill="#d4d4d4" stroke="#fff" stroke-width="0.8"/><circle cx="4.8" cy="5.8" r="0.9" fill="#fff"/><circle cx="9" cy="5.8" r="0.9" fill="#fff"/><circle cx="10.6" cy="9.8" r="0.7" fill="#fff"/><circle cx="14.2" cy="9.8" r="0.7" fill="#fff"/></svg>';
el('div','tx',wm,'left:21px;top:0;font-size:12.5px;line-height:17px;color:#b3b3b3;','公众号 · 海期航运');
</script>
</body></html>
